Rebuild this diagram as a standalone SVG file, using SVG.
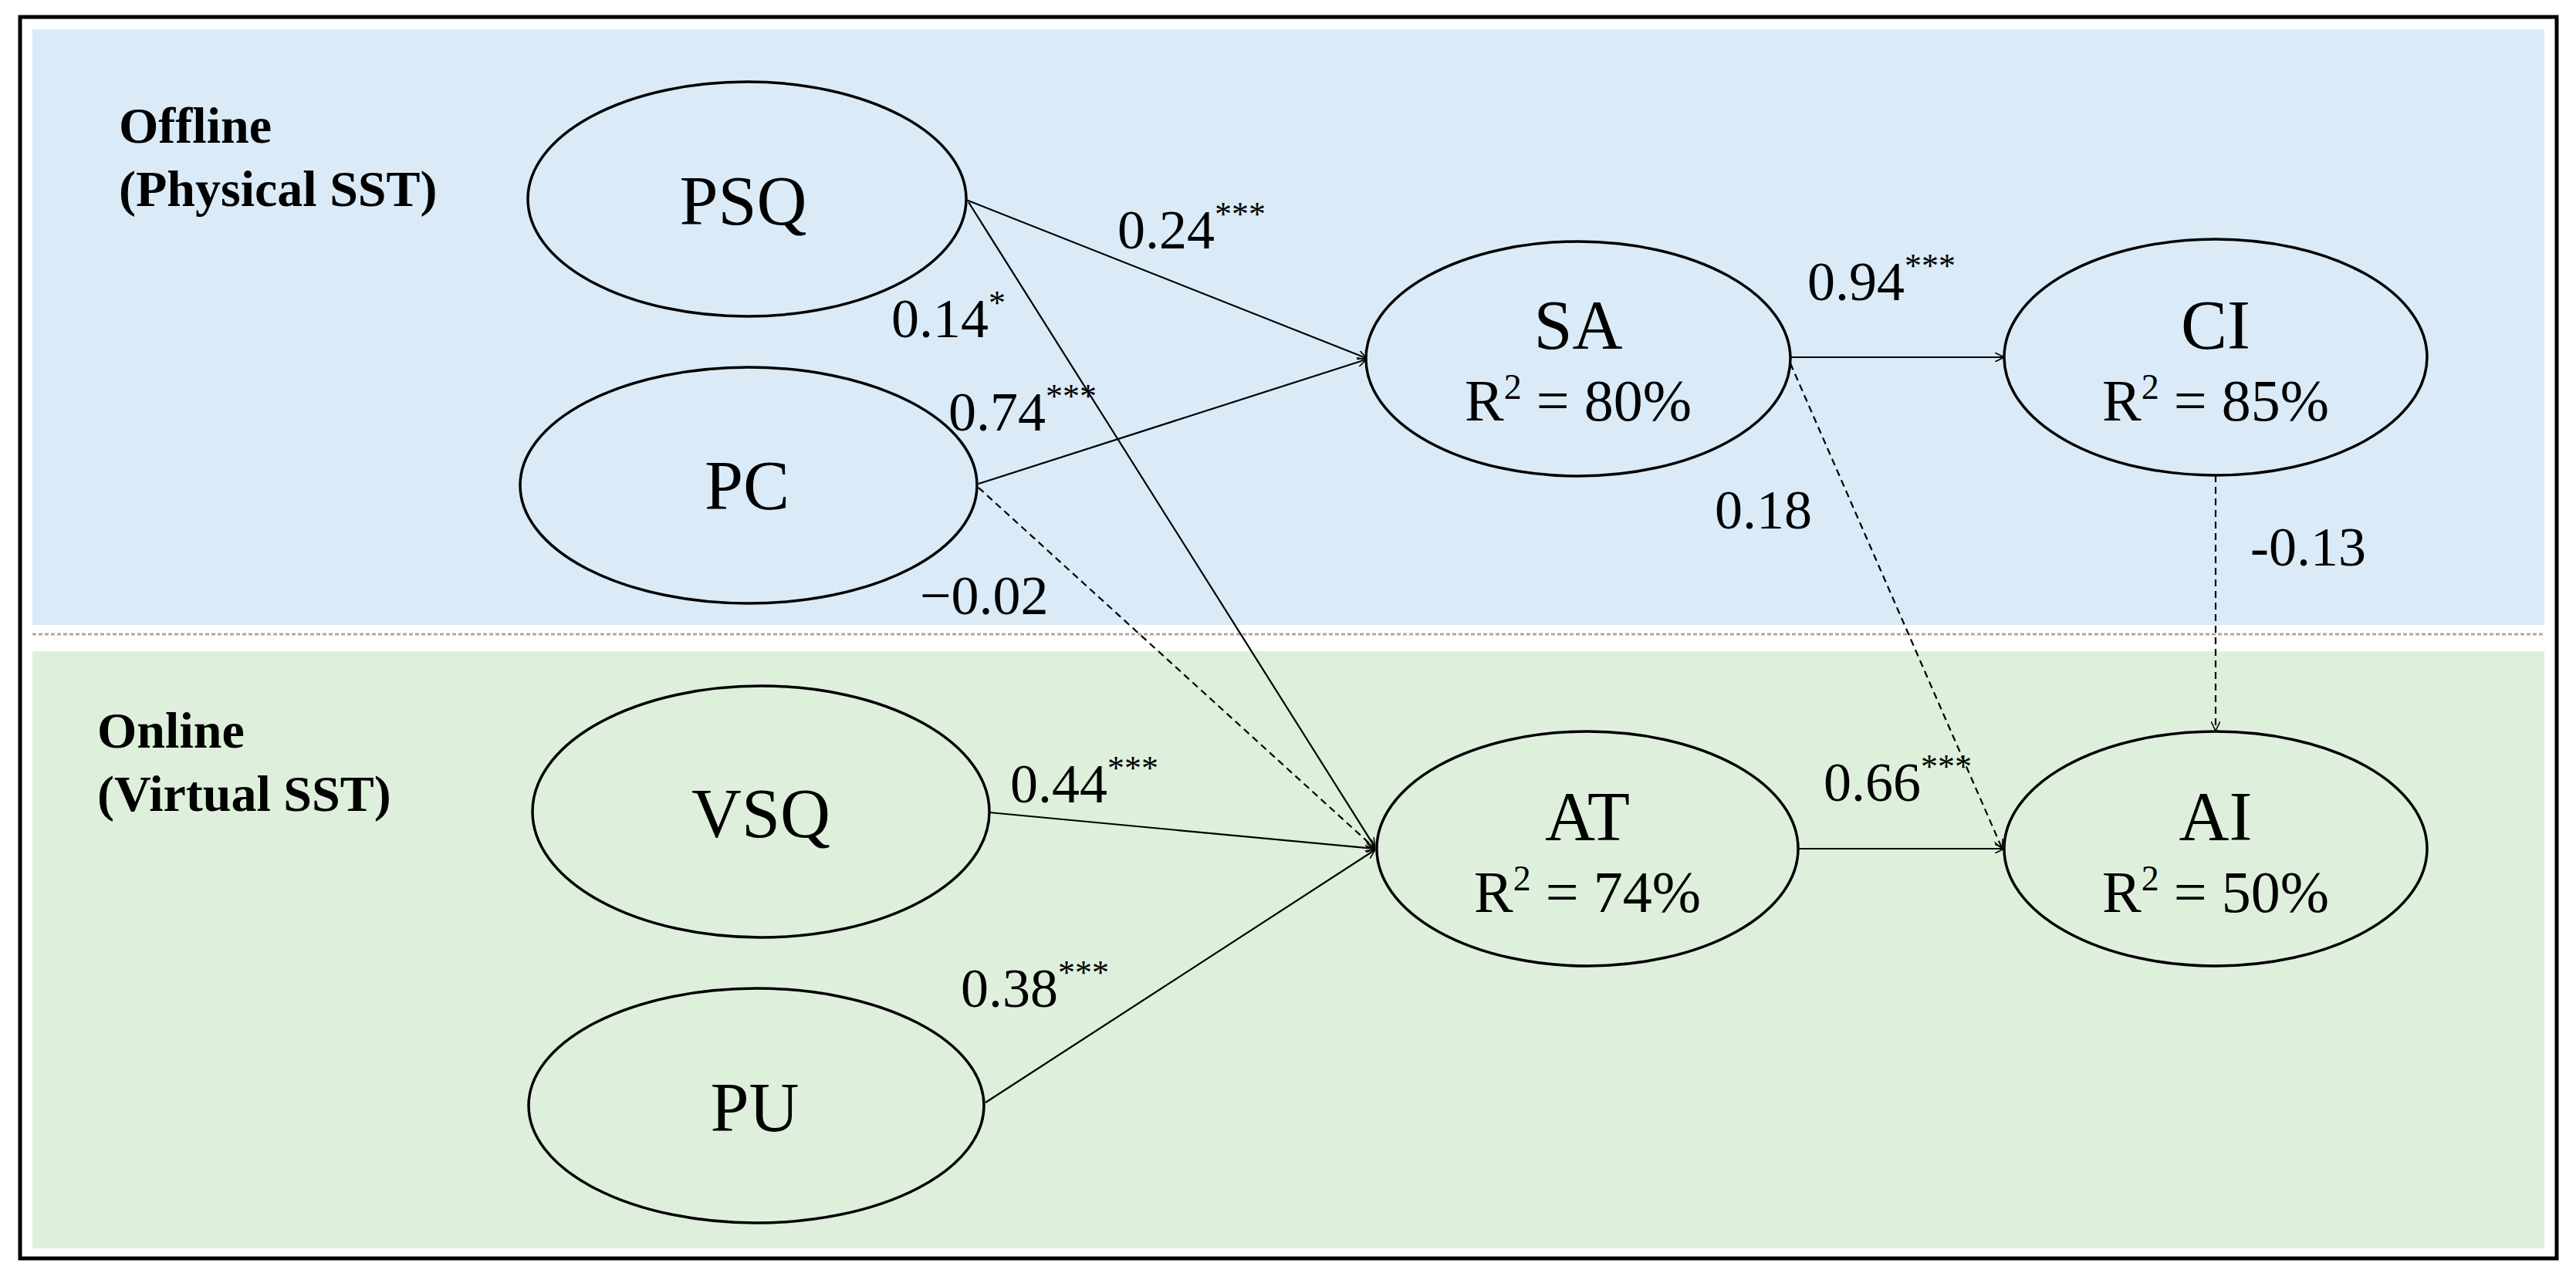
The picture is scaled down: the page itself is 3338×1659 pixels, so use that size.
<svg xmlns="http://www.w3.org/2000/svg" width="3338" height="1659" viewBox="0 0 3338 1659">
<style>
text{font-family:"Liberation Serif","Times New Roman",serif;fill:#000}
.n{font-size:90px;text-anchor:middle}
.r{font-size:76px;text-anchor:middle}
.l{font-size:72px}
.s{font-size:66px;font-weight:bold}
ellipse{fill:none;stroke:#000;stroke-width:3.5}
.e{fill:none;stroke:#000;stroke-width:2.2;marker-end:url(#a)}
.d{stroke-dasharray:9 6}
</style>
<defs>
<marker id="a" viewBox="0 0 12 12" refX="11" refY="6" markerWidth="12" markerHeight="12" markerUnits="userSpaceOnUse" orient="auto">
<path d="M0,0 L12,6 L0,12" fill="none" stroke="#000" stroke-width="1.6"/>
</marker>
</defs>
<rect x="0" y="0" width="3338" height="1659" fill="#fff"/>
<rect x="42" y="38" width="3255" height="772" fill="#DAEBF7"/>
<rect x="42" y="844" width="3255" height="774" fill="#DEF0DC"/>
<line x1="42" y1="822" x2="3297" y2="822" stroke="#aaa" stroke-width="3" stroke-dasharray="5 3"/>
<rect x="26" y="22" width="3287" height="1609" fill="none" stroke="#000" stroke-width="5"/>
<text class="s" x="154" y="185">Offline</text>
<text class="s" x="154" y="267">(Physical SST)</text>
<text class="s" x="126" y="969">Online</text>
<text class="s" x="126" y="1051">(Virtual SST)</text>
<g id="connectors">
<line class="e" x1="1252" y1="259" x2="1770" y2="464"/>
<line class="e" x1="1255" y1="262" x2="1781" y2="1097"/>
<line class="e" x1="1268" y1="627" x2="1770" y2="466"/>
<line class="e d" x1="1268" y1="632" x2="1781" y2="1099"/>
<line class="e" x1="1282" y1="1053" x2="1781" y2="1100"/>
<line class="e" x1="1277" y1="1429" x2="1781" y2="1102"/>
<line class="e" x1="2320" y1="463" x2="2596" y2="463"/>
<line class="e d" x1="2320" y1="471" x2="2594" y2="1099"/>
<line class="e d" x1="2871" y1="616" x2="2871" y2="946"/>
<line class="e" x1="2331" y1="1100" x2="2596" y2="1100"/>
<text class="l" x="1448" y="322">0.24<tspan font-size="44" dy="-30">***</tspan></text>
<text class="l" x="1155" y="437">0.14<tspan font-size="44" dy="-30">*</tspan></text>
<text class="l" x="1229" y="558">0.74<tspan font-size="44" dy="-30">***</tspan></text>
<text class="l" x="1192" y="796">−0.02</text>
<text class="l" x="2342" y="389">0.94<tspan font-size="44" dy="-30">***</tspan></text>
<text class="l" x="2222" y="685">0.18</text>
<text class="l" x="2916" y="733">-0.13</text>
<text class="l" x="1309" y="1040">0.44<tspan font-size="44" dy="-30">***</tspan></text>
<text class="l" x="1245" y="1305">0.38<tspan font-size="44" dy="-30">***</tspan></text>
<text class="l" x="2363" y="1038">0.66<tspan font-size="44" dy="-30">***</tspan></text>
</g>
<g id="PSQ"><ellipse cx="968" cy="258" rx="284" ry="152"/><text class="n" x="963" y="291">PSQ</text></g>
<g id="PC"><ellipse cx="970" cy="629" rx="296" ry="153"/><text class="n" x="968" y="660">PC</text></g>
<g id="VSQ"><ellipse cx="986" cy="1052" rx="296" ry="163"/><text class="n" x="986" y="1085">VSQ</text></g>
<g id="PU"><ellipse cx="980" cy="1433" rx="295" ry="152"/><text class="n" x="978" y="1466">PU</text></g>
<g id="SA"><ellipse cx="2045" cy="465" rx="275" ry="152"/><text class="n" x="2045" y="452">SA</text><text class="r" x="2045" y="545">R<tspan font-size="46" dy="-28">2</tspan><tspan dy="28"> = 80%</tspan></text></g>
<g id="CI"><ellipse cx="2871" cy="463" rx="274" ry="153"/><text class="n" x="2871" y="452">CI</text><text class="r" x="2871" y="545">R<tspan font-size="46" dy="-28">2</tspan><tspan dy="28"> = 85%</tspan></text></g>
<g id="AT"><ellipse cx="2057" cy="1100" rx="273" ry="152"/><text class="n" x="2057" y="1089">AT</text><text class="r" x="2057" y="1182">R<tspan font-size="46" dy="-28">2</tspan><tspan dy="28"> = 74%</tspan></text></g>
<g id="AI"><ellipse cx="2871" cy="1100" rx="274" ry="152"/><text class="n" x="2871" y="1089">AI</text><text class="r" x="2871" y="1182">R<tspan font-size="46" dy="-28">2</tspan><tspan dy="28"> = 50%</tspan></text></g>
</svg>
